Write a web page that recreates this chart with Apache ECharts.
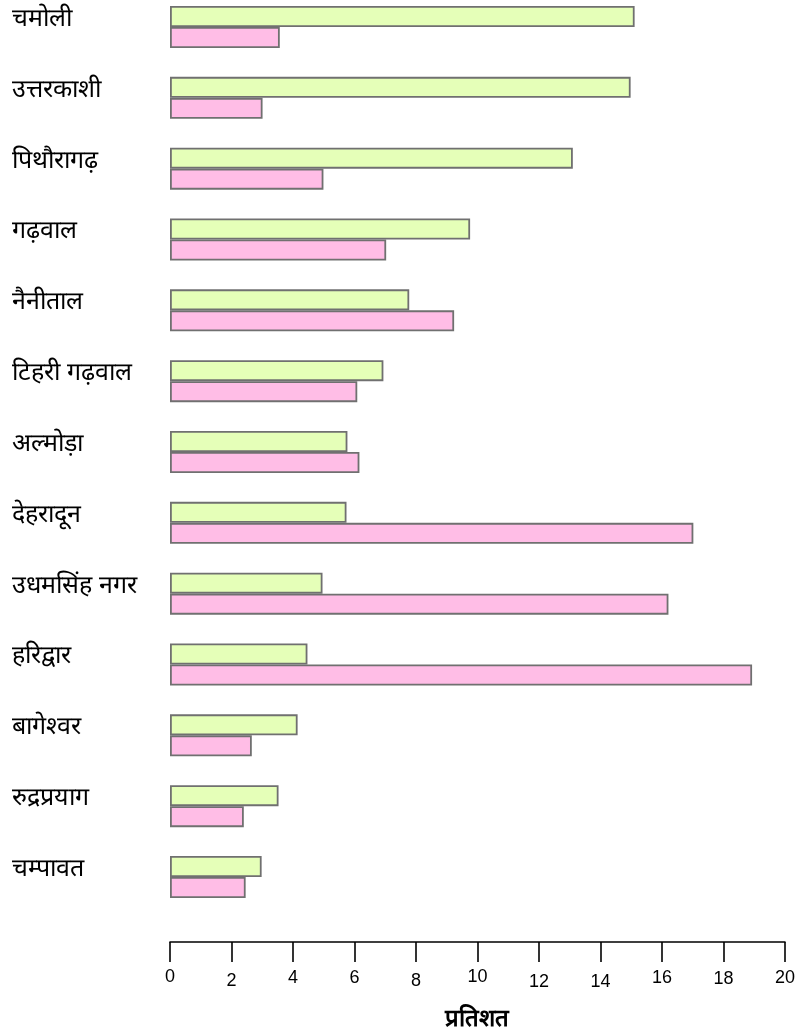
<!DOCTYPE html>
<html>
<head>
<meta charset="utf-8">
<script src="https://cdn.jsdelivr.net/npm/echarts@6/dist/echarts.min.js"></script>
<style>
  html, body { margin: 0; padding: 0; background: #fff; }
  #chart { width: 798px; height: 1036px; }
</style>
</head>
<body>
<div id="chart"></div>
<script>
const districts = ['चमोली', 'उत्तरकाशी', 'पिथौरागढ़', 'गढ़वाल', 'नैनीताल', 'टिहरी गढ़वाल', 'अल्मोड़ा',
  'देहरादून', 'उधमसिंह नगर', 'हरिद्वार', 'बागेश्वर', 'रुद्रप्रयाग', 'चम्पावत'];
const greenValues = [15.11, 14.98, 13.10, 9.76, 7.78, 6.94, 5.77, 5.74, 4.96, 4.47, 4.15, 3.53, 2.98];
const pinkValues = [3.57, 3.01, 4.99, 7.03, 9.24, 6.09, 6.16, 17.02, 16.21, 18.93, 2.66, 2.40, 2.46];
const xTicks = [0, 20, 2]; // min, max, interval

// the tick numbers sit slightly up and down in the original
const tickDrop = { 0: 0, 2: 4, 4: 1, 6: 1, 8: 4, 10: 0, 12: 5, 14: 5, 16: 1, 18: 2, 20: 1 };

const chart = echarts.init(document.getElementById('chart'));

const barStyle = (color) => ({ color: color, borderColor: '#707070', borderWidth: 1.8 });

const rich = {};
Object.keys(tickDrop).forEach(k => {
  rich['t' + k] = { fontSize: 18, color: '#000', fontFamily: 'Liberation Sans', padding: [tickDrop[k], 0, 0, 0] };
});

chart.setOption({
  animation: false,
  grid: { left: 170, width: 617, top: 27, height: 852 },
  xAxis: {
    type: 'value',
    min: xTicks[0], max: xTicks[1], interval: xTicks[2],
    position: 'bottom',
    offset: 65,
    splitLine: { show: false },
    axisLine: { show: true, lineStyle: { color: '#000', width: 1.6 } },
    axisTick: { show: true, length: 20, lineStyle: { color: '#000', width: 1.6 } },
    axisLabel: {
      margin: 26,
      fontSize: 18,
      fontFamily: 'Liberation Sans',
      formatter: v => '{t' + v + '|' + v + '}',
      rich: rich
    },
    name: 'प्रतिशत',
    nameLocation: 'middle',
    nameGap: 65,
    nameTextStyle: { fontSize: 24, fontWeight: 'bold', color: '#000' }
  },
  yAxis: {
    type: 'category',
    inverse: true,
    boundaryGap: false,
    data: districts,
    axisLine: { show: false },
    axisTick: { show: false },
    axisLabel: { align: 'left', verticalAlign: 'bottom', lineHeight: 16, margin: 158, fontSize: 25, color: '#000' }
  },
  series: [
    { type: 'bar', data: greenValues, barWidth: 21, barGap: 0, itemStyle: barStyle('#e5ffb8') },
    { type: 'bar', data: pinkValues, barWidth: 21, barGap: 0, itemStyle: barStyle('#ffbde6') }
  ]
});
</script>
</body>
</html>
